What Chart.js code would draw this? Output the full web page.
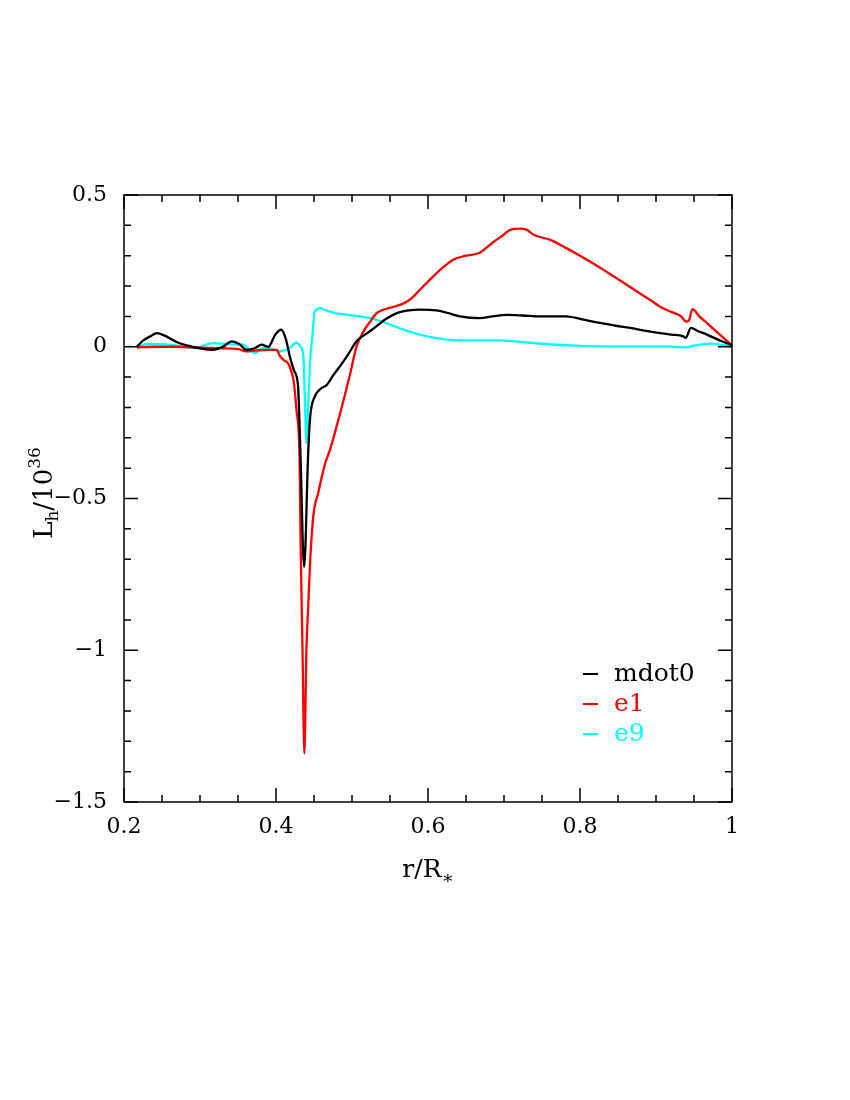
<!DOCTYPE html>
<html>
<head>
<meta charset="utf-8">
<script src="https://cdn.jsdelivr.net/npm/chart.js@4.4.1/dist/chart.umd.min.js"></script>
<style>
  html, body { margin: 0; padding: 0; background: #fff; }
  canvas { display: block; }
</style>
</head>
<body>
<canvas id="chart" width="850" height="1100"></canvas>
<script>
// mdot0
const rMdot0 = [0.217,0.225,0.235,0.243,0.255,0.27,0.285,0.296,0.317,0.33,0.342,0.352,0.361,0.372,0.381,0.39,0.399,0.407,0.413,0.418,0.424,0.429,0.432,0.437,0.4425,0.445,0.451,0.458,0.467,0.475,0.484,0.495,0.506,0.52,0.532,0.545,0.559,0.575,0.589,0.611,0.625,0.642,0.668,0.685,0.704,0.725,0.747,0.782,0.8,0.822,0.845,0.866,0.885,0.905,0.92,0.936,0.939,0.946,0.955,0.967,0.98,0.99,1.0];
const lMdot0 = [0.0,0.02,0.035,0.045,0.035,0.015,0.003,-0.004,-0.01,0.0,0.018,0.008,-0.01,-0.005,0.007,0.0,0.04,0.056,0.025,-0.03,-0.08,-0.13,-0.34,-0.725,-0.34,-0.23,-0.164,-0.14,-0.125,-0.095,-0.065,-0.025,0.018,0.045,0.067,0.092,0.111,0.12,0.122,0.12,0.112,0.1,0.094,0.1,0.105,0.103,0.1,0.1,0.092,0.08,0.07,0.062,0.053,0.045,0.04,0.034,0.029,0.062,0.052,0.04,0.025,0.015,0.005];

// e1
const rE1 = [0.217,0.24,0.27,0.3,0.33,0.35,0.361,0.375,0.39,0.401,0.405,0.41,0.416,0.42,0.423,0.427,0.431,0.4325,0.4349,0.4373,0.44,0.4425,0.4447,0.449,0.4557,0.464,0.471,0.48,0.489,0.498,0.506,0.515,0.524,0.532,0.541,0.552,0.563,0.572,0.581,0.594,0.607,0.62,0.633,0.65,0.668,0.686,0.7,0.708,0.721,0.73,0.739,0.761,0.782,0.8,0.813,0.83,0.844,0.86,0.875,0.89,0.905,0.92,0.932,0.94,0.943,0.948,0.957,0.967,0.984,0.999];
const lE1 = [-0.002,0.0,0.0,-0.003,-0.005,-0.008,-0.015,-0.012,-0.01,-0.01,-0.03,-0.043,-0.055,-0.08,-0.11,-0.21,-0.37,-0.67,-1.0,-1.34,-1.0,-0.85,-0.72,-0.56,-0.48,-0.39,-0.34,-0.26,-0.175,-0.085,0.001,0.05,0.083,0.11,0.122,0.13,0.138,0.148,0.166,0.2,0.232,0.262,0.287,0.3,0.31,0.345,0.37,0.385,0.389,0.385,0.369,0.352,0.325,0.3,0.281,0.255,0.232,0.207,0.182,0.158,0.133,0.115,0.102,0.083,0.085,0.124,0.1,0.078,0.04,0.007];

// e9
const rE9 = [0.217,0.23,0.259,0.291,0.318,0.34,0.357,0.365,0.372,0.383,0.396,0.405,0.418,0.427,0.432,0.436,0.438,0.440,0.4425,0.445,0.448,0.451,0.458,0.468,0.48,0.495,0.51,0.532,0.563,0.589,0.62,0.651,0.695,0.712,0.756,0.8,0.866,0.91,0.94,0.948,0.975,0.984,1.0];
const lE9 = [-0.003,0.009,0.007,-0.004,0.012,0.008,0.007,-0.01,-0.021,-0.004,-0.008,-0.015,-0.004,0.014,0.001,-0.03,-0.17,-0.317,-0.18,-0.043,0.04,0.116,0.127,0.118,0.11,0.105,0.1,0.089,0.061,0.04,0.025,0.021,0.021,0.018,0.009,0.003,0.001,0.001,-0.002,0.003,0.01,0.007,0.002];

const seriesNames = ['mdot0', 'e1', 'e9'];
const xTicks = [0.2, 0.4, 0.6, 0.8, 1];
const yTicks = [-1.5, -1, -0.5, 0, 0.5];

const FONT = '"DejaVu Serif", serif';

function pts(xs, ys) {
    return xs.map((x, i) => ({ x: x, y: ys[i] }));
}

function fmt(v) {
    let s = String(Math.round(v * 10) / 10);
    return s.replace('-', '\u2212');
}

// 축 틀, 안쪽 눈금, 축 제목, 범례
const framePlugin = {
    id: 'frame',
    afterDatasetsDraw(chart) {
        const ctx = chart.ctx;
        const a = chart.chartArea;
        const xs = chart.scales.x;
        const ys = chart.scales.y;
        ctx.save();
        ctx.strokeStyle = '#000';
        ctx.lineWidth = 1.5;
        ctx.strokeRect(a.left, a.top, a.right - a.left, a.bottom - a.top);

        ctx.beginPath();
        for (let i = 0; i <= 16; i++) {
            const v = 0.2 + i * 0.05;
            const px = xs.getPixelForValue(v);
            const len = (i % 4 === 0) ? 14 : 7;
            ctx.moveTo(px, a.bottom); ctx.lineTo(px, a.bottom - len);
            ctx.moveTo(px, a.top); ctx.lineTo(px, a.top + len);
        }
        for (let i = 0; i <= 20; i++) {
            const v = -1.5 + i * 0.1;
            const py = ys.getPixelForValue(v);
            const len = (i % 5 === 0) ? 14 : 7;
            ctx.moveTo(a.left, py); ctx.lineTo(a.left + len, py);
            ctx.moveTo(a.right, py); ctx.lineTo(a.right - len, py);
        }
        ctx.stroke();

        // x 축 제목 r/R*
        ctx.fillStyle = '#000';
        ctx.textBaseline = 'alphabetic';
        ctx.textAlign = 'left';
        const t1 = 'r/R';
        ctx.font = '25px ' + FONT;
        const w1 = ctx.measureText(t1).width;
        ctx.font = '18px ' + FONT;
        const w2 = ctx.measureText('\u2217').width;
        let x0 = (a.left + a.right) / 2 - (w1 + w2) / 2;
        ctx.font = '25px ' + FONT;
        ctx.fillText(t1, x0, 877);
        ctx.font = '18px ' + FONT;
        ctx.fillText('\u2217', x0 + w1, 884);

        // y 축 제목 Lh/10^36
        ctx.save();
        ctx.translate(52, 493);
        ctx.rotate(-Math.PI / 2);
        const parts = [
            { t: 'L', f: 26, dy: 0 },
            { t: 'h', f: 17, dy: 6 },
            { t: '/10', f: 26, dy: 0 },
            { t: '36', f: 17, dy: -12 }
        ];
        let total = 0;
        parts.forEach(p => { ctx.font = p.f + 'px ' + FONT; p.w = ctx.measureText(p.t).width; total += p.w; });
        let cx = -total / 2;
        parts.forEach(p => {
            ctx.font = p.f + 'px ' + FONT;
            ctx.fillText(p.t, cx, p.dy);
            cx += p.w;
        });
        ctx.restore();

        // 범례
        ctx.font = '25px ' + FONT;
        ctx.textBaseline = 'middle';
        chart.data.datasets.forEach((ds, i) => {
            const y = 674 + i * 30;
            ctx.strokeStyle = ds.borderColor;
            ctx.lineWidth = 2;
            ctx.beginPath();
            ctx.moveTo(583, y); ctx.lineTo(598, y);
            ctx.stroke();
            ctx.fillStyle = ds.borderColor;
            ctx.fillText(ds.label, 614, y);
        });
        ctx.restore();
    }
};

const colors = ['#000000', '#ff0000', '#00ffff'];
const sets = [pts(rMdot0, lMdot0), pts(rE1, lE1), pts(rE9, lE9)];

new Chart(document.getElementById('chart').getContext('2d'), {
    type: 'line',
    data: {
        datasets: sets.map((d, i) => ({
            label: seriesNames[i],
            data: d,
            borderColor: colors[i],
            backgroundColor: colors[i],
            borderWidth: 2.3,
            pointRadius: 0,
            fill: false,
            cubicInterpolationMode: 'monotone'
        }))
    },
    options: {
        responsive: false,
        animation: false,
        layout: { padding: { left: 0, top: 195, right: 118, bottom: 0 } },
        plugins: {
            legend: { display: false },
            tooltip: { enabled: false }
        },
        scales: {
            x: {
                type: 'linear',
                min: 0.2,
                max: 1.0,
                grid: { display: false, drawTicks: false },
                border: { display: false },
                afterFit: (s) => { s.height = 1100 - 802; },
                afterBuildTicks: (s) => { s.ticks = xTicks.map(v => ({ value: v })); },
                ticks: {
                    padding: 12,
                    color: '#000',
                    font: { family: FONT, size: 22 },
                    maxRotation: 0,
                    callback: (v) => fmt(v)
                }
            },
            y: {
                type: 'linear',
                min: -1.5,
                max: 0.5,
                grid: { display: false, drawTicks: false },
                border: { display: false },
                afterFit: (s) => { s.width = 124; },
                afterBuildTicks: (s) => { s.ticks = yTicks.map(v => ({ value: v })); },
                ticks: {
                    padding: 17,
                    color: '#000',
                    font: { family: FONT, size: 22 },
                    callback: (v) => fmt(v)
                }
            }
        }
    },
    plugins: [framePlugin]
});
</script>
</body>
</html>
